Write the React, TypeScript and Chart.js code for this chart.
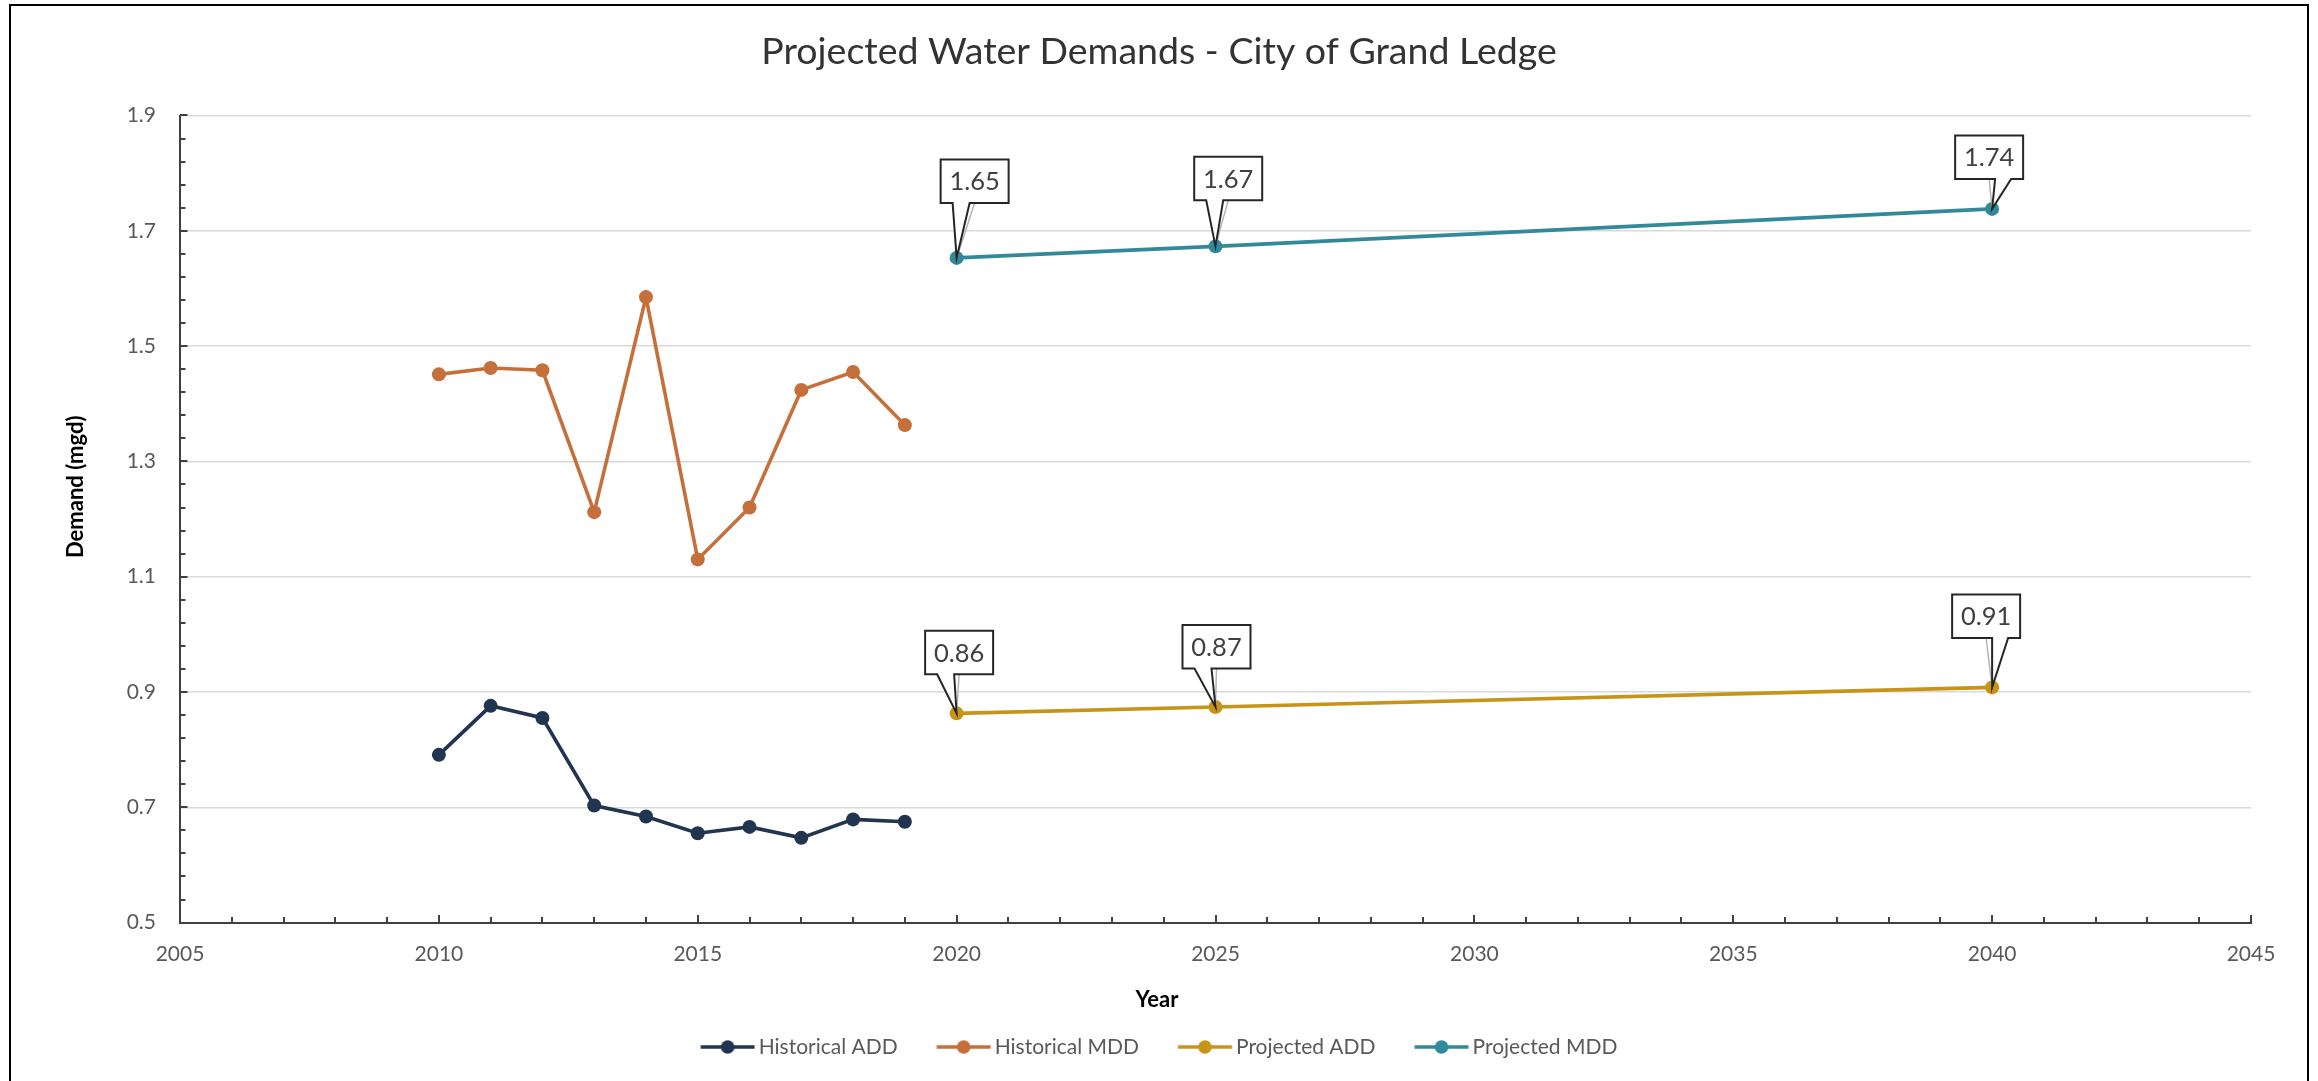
import React, { useEffect, useRef } from "react";
import { Chart, registerables } from "chart.js";

Chart.register(...registerables);

// ---------- data ----------
const historicalYears = [2010, 2011, 2012, 2013, 2014, 2015, 2016, 2017, 2018, 2019];
const historicalADD = [0.791, 0.876, 0.855, 0.703, 0.684, 0.655, 0.666, 0.647, 0.679, 0.675];
const historicalMDD = [1.451, 1.462, 1.458, 1.212, 1.585, 1.13, 1.22, 1.424, 1.455, 1.363];
const projectedYears = [2020, 2025, 2040];
const projectedADD = [0.863, 0.874, 0.908];
const projectedMDD = [1.653, 1.673, 1.738];

const seriesNames = ["Historical ADD", "Historical MDD", "Projected ADD", "Projected MDD"];
const seriesColors = ["#213550", "#C5703B", "#C79417", "#31899B"];

const xTickValues = [2005, 2010, 2015, 2020, 2025, 2030, 2035, 2040, 2045];
const xTickLabels = ["2005", "2010", "2015", "2020", "2025", "2030", "2035", "2040", "2045"];
const yTickValues = [0.5, 0.7, 0.9, 1.1, 1.3, 1.5, 1.7, 1.9];
const yTickLabels = ["0.5", "0.7", "0.9", "1.1", "1.3", "1.5", "1.7", "1.9"];
const xMinorStep = 1;
const yMinorStep = 0.04;

const chartTitle = "Projected Water Demands - City of Grand Ledge";
const xAxisTitle = "Year";
const yAxisTitle = "Demand (mgd)";

// callout placement: [box-centre dx, box-bottom dy] relative to the point
const projectedADDLabelOffsets = [[2.5, -39], [1, -38.5], [-6, -49.5]];
const projectedMDDLabelOffsets = [[18, -55], [12.7, -46], [-3, -30]];

// ---------- styling ----------
const FONT = "Lato, 'Open Sans', sans-serif";
const AXIS_COLOR = "#404040";
const TICK_COLOR = "#595959";

function makeLegendImage(color: string): HTMLCanvasElement {
  const c = document.createElement("canvas");
  c.width = 62;
  c.height = 16;
  const g = c.getContext("2d")!;
  g.strokeStyle = color;
  g.lineWidth = 3.6;
  g.beginPath();
  g.moveTo(7.25, 8);
  g.lineTo(61.25, 8);
  g.stroke();
  g.fillStyle = color;
  g.beginPath();
  g.arc(34.25, 8, 6.8, 0, Math.PI * 2);
  g.fill();
  return c;
}

const innerTicksPlugin = {
  id: "innerTicks",
  beforeDatasetsDraw(chart: any) {
    const { ctx, chartArea } = chart;
    const xs = chart.scales.x;
    const ys = chart.scales.y;
    ctx.save();
    ctx.strokeStyle = AXIS_COLOR;
    ctx.lineWidth = 2;
    const ny = Math.round((ys.max - ys.min) / yMinorStep);
    for (let i = 0; i <= ny; i++) {
      const v = ys.min + i * yMinorStep;
      const py = Math.round(ys.getPixelForValue(v));
      const major = yTickValues.some((t) => Math.abs(t - v) < 1e-6);
      const len = major ? 7.5 : 5.5;
      ctx.beginPath();
      ctx.moveTo(chartArea.left, py);
      ctx.lineTo(chartArea.left + len, py);
      ctx.stroke();
    }
    const nx = Math.round((xs.max - xs.min) / xMinorStep);
    for (let i = 0; i <= nx; i++) {
      const v = xs.min + i * xMinorStep;
      const px = Math.round(xs.getPixelForValue(v));
      const major = xTickValues.some((t) => Math.abs(t - v) < 1e-6);
      const len = major ? 7.5 : 5.5;
      ctx.beginPath();
      ctx.moveTo(px, chartArea.bottom);
      ctx.lineTo(px, chartArea.bottom - len);
      ctx.stroke();
    }
    ctx.restore();
  },
};

const calloutPlugin = {
  id: "callouts",
  afterDatasetsDraw(chart: any) {
    const ctx = chart.ctx;
    const sets = [
      { idx: 2, values: projectedADD, offsets: projectedADDLabelOffsets },
      { idx: 3, values: projectedMDD, offsets: projectedMDDLabelOffsets },
    ];
    const BW = 68;
    const BH = 43.5;
    ctx.save();
    sets.forEach((s) => {
      const meta = chart.getDatasetMeta(s.idx);
      meta.data.forEach((pt: any, i: number) => {
        const px = pt.x;
        const py = pt.y;
        const [dx, dy] = s.offsets[i];
        const cx = px + dx;
        const bottom = py + dy;
        const top = bottom - BH;
        const left = cx - BW / 2;
        const right = cx + BW / 2;
        // leader line
        ctx.strokeStyle = "#b5b5b5";
        ctx.lineWidth = 1.5;
        ctx.beginPath();
        ctx.moveTo(px, py);
        ctx.lineTo(cx, bottom);
        ctx.stroke();
        // callout shape
        const rel = px - cx;
        const b1 = rel >= 0 ? cx + 6 : cx - 22;
        const b2 = rel >= 0 ? cx + 22 : cx - 5;
        ctx.beginPath();
        ctx.moveTo(left, top);
        ctx.lineTo(right, top);
        ctx.lineTo(right, bottom);
        ctx.lineTo(b2, bottom);
        ctx.lineTo(px, py);
        ctx.lineTo(b1, bottom);
        ctx.lineTo(left, bottom);
        ctx.closePath();
        ctx.fillStyle = "#ffffff";
        ctx.fill();
        ctx.strokeStyle = "#262626";
        ctx.lineWidth = 2;
        ctx.lineJoin = "miter";
        ctx.stroke();
        // text
        ctx.fillStyle = "#404040";
        ctx.font = `25.5px ${FONT}`;
        ctx.textAlign = "center";
        ctx.textBaseline = "middle";
        ctx.fillText(s.values[i].toFixed(2), cx, (top + bottom) / 2 + 1);
      });
    });
    ctx.restore();
  },
};

const axisTitlesPlugin = {
  id: "axisTitles",
  afterDraw(chart: any) {
    const ctx = chart.ctx;
    ctx.save();
    ctx.fillStyle = "#000000";
    ctx.font = `bold 22px ${FONT}`;
    ctx.textBaseline = "middle";
    ctx.textAlign = "center";
    ctx.fillText(xAxisTitle, 1157, 1000);
    ctx.translate(76, 558);
    ctx.rotate(-Math.PI / 2);
    ctx.textAlign = "left";
    ctx.fillText(yAxisTitle, 0, 0);
    ctx.restore();
  },
};

export default function App() {
  const ref = useRef<HTMLCanvasElement>(null);

  useEffect(() => {
    const canvas = ref.current;
    if (!canvas) return;
    const legendImages = seriesColors.map((c) => makeLegendImage(c));

    const seriesData = [
      historicalYears.map((yr, i) => ({ x: yr, y: historicalADD[i] })),
      historicalYears.map((yr, i) => ({ x: yr, y: historicalMDD[i] })),
      projectedYears.map((yr, i) => ({ x: yr, y: projectedADD[i] })),
      projectedYears.map((yr, i) => ({ x: yr, y: projectedMDD[i] })),
    ];

    const chart = new Chart(canvas, {
      type: "line",
      data: {
        datasets: seriesData.map((d, i) => ({
          label: seriesNames[i],
          data: d,
          borderColor: seriesColors[i],
          backgroundColor: seriesColors[i],
          borderWidth: 3.6,
          pointRadius: 7,
          pointHoverRadius: 7,
          pointBackgroundColor: seriesColors[i],
          pointBorderColor: seriesColors[i],
          pointBorderWidth: 0,
          tension: 0,
          fill: false,
        })),
      },
      options: {
        responsive: false,
        devicePixelRatio: 1,
        animation: false,
        events: [],
        layout: { padding: { left: 67, right: 67, top: 0, bottom: 13.5 } },
        plugins: {
          tooltip: { enabled: false },
          title: {
            display: true,
            text: chartTitle,
            color: "#333333",
            font: { family: FONT, size: 37.5, weight: "normal", lineHeight: 1 },
            padding: { top: 33.25, bottom: 44.75 },
          },
          legend: {
            display: true,
            position: "bottom",
            labels: {
              usePointStyle: true,
              pointStyleWidth: 47.5,
              padding: 39,
              color: TICK_COLOR,
              font: { family: FONT, size: 21 },
              generateLabels: (ch: any) =>
                ch.data.datasets.map((ds: any, i: number) => ({
                  text: ds.label,
                  pointStyle: legendImages[i],
                  fillStyle: seriesColors[i],
                  strokeStyle: seriesColors[i],
                  lineWidth: 0,
                  hidden: false,
                  datasetIndex: i,
                  fontColor: TICK_COLOR,
                })),
            },
          },
        },
        scales: {
          x: {
            type: "linear",
            min: 2005,
            max: 2045,
            afterBuildTicks: (s: any) => {
              s.ticks = xTickValues.map((v) => ({ value: v }));
            },
            afterFit: (s: any) => {
              s.height = 74.9;
            },
            ticks: {
              autoSkip: false,
              maxRotation: 0,
              padding: 19.3,
              color: TICK_COLOR,
              font: { family: FONT, size: 21 },
              callback: (_v: any, i: number) => xTickLabels[i],
            },
            grid: { display: false, drawTicks: false },
            border: { display: true, color: AXIS_COLOR, width: 2 },
          },
          y: {
            type: "linear",
            min: 0.5,
            max: 1.9,
            afterBuildTicks: (s: any) => {
              s.ticks = yTickValues.map((v) => ({ value: v }));
            },
            afterFit: (s: any) => {
              s.width = 113;
            },
            ticks: {
              autoSkip: false,
              padding: 24,
              color: TICK_COLOR,
              font: { family: FONT, size: 21 },
              callback: (_v: any, i: number) => yTickLabels[i],
            },
            grid: { display: true, color: "#d9d9d9", lineWidth: 1.5, drawTicks: false },
            border: { display: true, color: AXIS_COLOR, width: 2 },
          },
        },
      },
      plugins: [innerTicksPlugin, calloutPlugin, axisTitlesPlugin],
    } as any);

    return () => chart.destroy();
  }, []);

  return (
    <div
      style={{
        position: "absolute",
        left: 0,
        top: 0,
        width: 2318,
        height: 1081,
        overflow: "hidden",
        background: "#ffffff",
      }}
    >
      <canvas
        ref={ref}
        width={2318}
        height={1081}
        style={{ position: "absolute", left: 0, top: 0, width: 2318, height: 1081 }}
      />
      <div
        style={{
          position: "absolute",
          left: 9,
          top: 4,
          width: 2300,
          height: 1200,
          border: "2px solid #000",
          boxSizing: "border-box",
          pointerEvents: "none",
        }}
      />
    </div>
  );
}
